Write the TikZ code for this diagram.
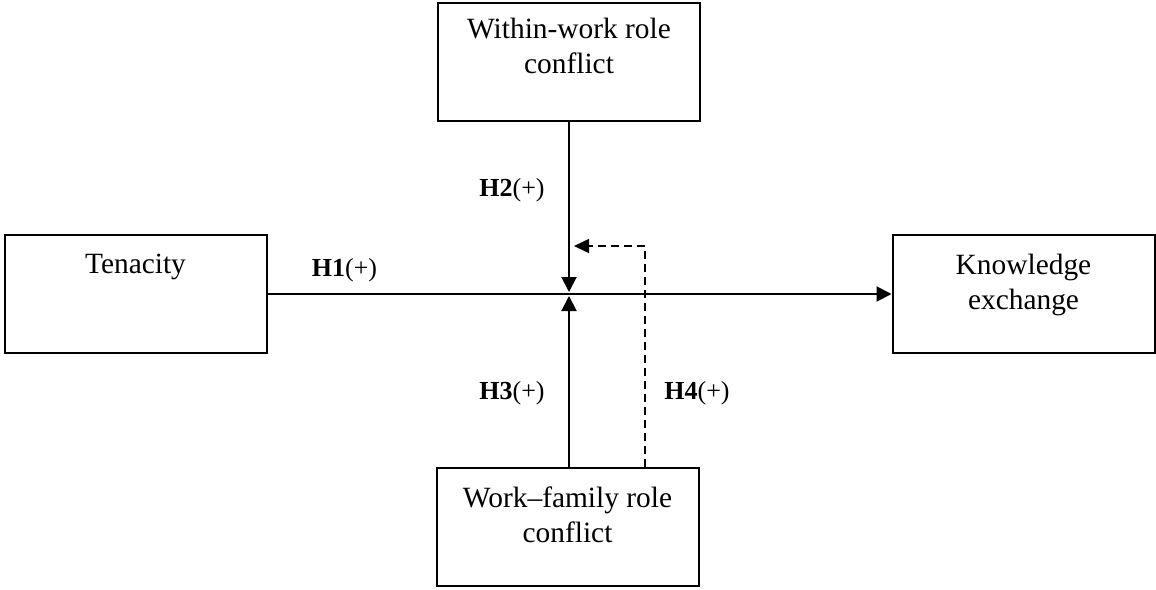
\documentclass[tikz,border=0pt]{standalone}
\usepackage{fontspec}
\setmainfont{Liberation Serif}
\usetikzlibrary{arrows.meta}
\usetikzlibrary{positioning}

\begin{document}
\begin{tikzpicture}[x=0.5pt, y=-0.5pt,
    varbox/.style={draw, line width=1pt, minimum width=131pt, minimum height=59pt, inner sep=0pt},
    boxtext/.style={align=center, font=\fontsize{14.7}{17.5}\selectfont, inner sep=0pt},
    hyp/.style={font=\fontsize{13}{15}\selectfont, inner sep=0pt},
    effect/.style={line width=1pt, -{Triangle[length=7.5pt,width=7.5pt]}},
    moder/.style={line width=0.75pt, dash pattern=on 4pt off 2.5pt, -{Triangle[length=7.5pt,width=7pt]}}]
    \useasboundingbox (0,0) rectangle (1156,589);

    % Draw the boxes
    \node[varbox] (within) at (569,61.5) {};
    \node[varbox] (tenacity) at (135.5,293.5) {};
    \node[varbox] (knowledge) at (1023.5,293.5) {};
    \node[varbox] (workfamily) at (567.5,526.5) {};

    % Texts in the boxes
    \node[boxtext, below=8pt of within.north] (withintext) {Within-work role\\conflict};
    \node[boxtext, below=10pt of tenacity.north] (tenacitytext) {Tenacity};
    \node[boxtext, below=10pt of knowledge.north] (knowledgetext) {Knowledge\\exchange};
    \node[boxtext, below=10pt of workfamily.north] (workfamilytext) {Work--family role\\conflict};

    % Hypotheses
    \node[hyp] (h1) at (344.5,270) {\textbf{H1}(+)};
    \node[hyp] (h2) at (512,190) {\textbf{H2}(+)};
    \node[hyp] (h3) at (512,393) {\textbf{H3}(+)};
    \node[hyp] (h4) at (697,393) {\textbf{H4}(+)};

    % Draw the arrows
    \coordinate (cross) at (569,294);
    \coordinate (bend) at (645,246);
    \draw[effect] (tenacity.east |- cross) -- (knowledge.west |- cross);
    \draw[effect] (within.south -| cross) -- ([yshift=1pt]cross);
    \draw[effect] (workfamily.north -| cross) -- ([yshift=-1pt]cross);
    \draw[moder] (workfamily.north -| bend) -- (bend) -- ([xshift=2.5pt]bend -| cross);

\end{tikzpicture}
\end{document}
